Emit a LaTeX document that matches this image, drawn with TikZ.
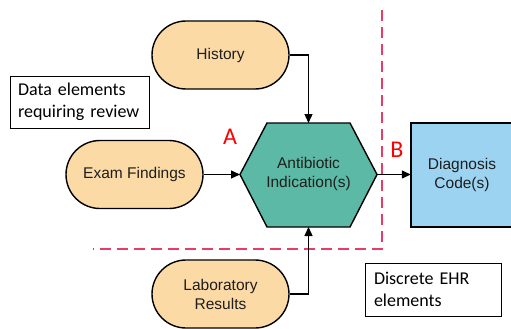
\documentclass[tikz,border=0pt]{standalone}
\usepackage{fontspec}
\setmainfont{Liberation Sans}
\newfontfamily\calib{Carlito}
\usetikzlibrary{shapes.misc,arrows.meta}
\definecolor{peach}{RGB}{252,218,166}
\definecolor{tealf}{RGB}{92,185,165}
\definecolor{bluef}{RGB}{156,211,241}
\definecolor{dashred}{RGB}{233,60,100}
\definecolor{txt}{RGB}{30,30,30}
\begin{document}
\begin{tikzpicture}[x=1pt,y=-1pt,
  nodefont/.style={font=\fontsize{15.5}{19}\selectfont, text=txt, align=center},
  pill/.style={rounded rectangle, draw=black, line width=1.4pt, fill=peach,
    minimum width=137pt, minimum height=68pt, inner sep=0pt, nodefont},
  conn/.style={line width=1.3pt, -{Triangle[length=9pt,width=8pt]}},
  note/.style={draw=black, line width=0.8pt, align=left, inner xsep=8pt, inner ysep=0pt,
    font=\calib\fontsize{18}{22}\selectfont},
  mark letter/.style={text=red, font=\calib\fontsize{24}{26}\selectfont, inner sep=0pt},
  dashline/.style={draw=dashred, line width=1.4pt, dash pattern=on 11pt off 6pt}]
\useasboundingbox (0,0) rectangle (511,329);
\clip (0,0) rectangle (511,329);

% dashed boundary
\draw[dashline] (382,10) -- (382,249) -- (93,249);

% hexagon
\coordinate (hT) at (308.5,123);
\coordinate (hB) at (308.5,227);
\coordinate (hL) at (240,174.5);
\coordinate (hR) at (377,174.5);
\draw[fill=tealf, line width=1.4pt, line join=miter]
  (267,123) -- (350,123) -- (hR) -- (350,227) -- (267,227) -- (hL) -- cycle;
\node[nodefont] (hex) at (308.5,173.5) {Antibiotic\\Indication(s)};

% diagnosis box (runs past the right edge)
\draw[fill=bluef, line width=1.4pt] (530,123) -- (411,123) -- (411,227) -- (530,227);
\node[minimum width=102pt, minimum height=104pt, inner sep=0pt, nodefont] (diag) at (462,175) {Diagnosis\\Code(s)};

% nodes
\node[pill] (hist) at (220.5,55) {History};
\node[pill] (exam) at (134.5,174.5) {Exam Findings};
\node[pill] (lab) at (220.5,294) {Laboratory\\Results};

% connectors
\draw[conn] (hist.east) -| (hT);
\draw[conn] (lab.east) -| (hB);
\draw[conn] (exam.east) -- (hL);
\draw[conn] (hR) -- (hR -| diag.west);

% notes
\node[note, text width=123pt, minimum height=52pt] (review) at (79.5,102) {Data elements\\requiring review};
\node[note, inner xsep=9pt, text width=118pt, minimum height=53pt] (ehr) at (433,289.5) {Discrete EHR\\elements};

% letters
\node[mark letter] (la) at (230,137) {A};
\node[mark letter] (lb) at (397,150) {B};
\end{tikzpicture}
\end{document}
